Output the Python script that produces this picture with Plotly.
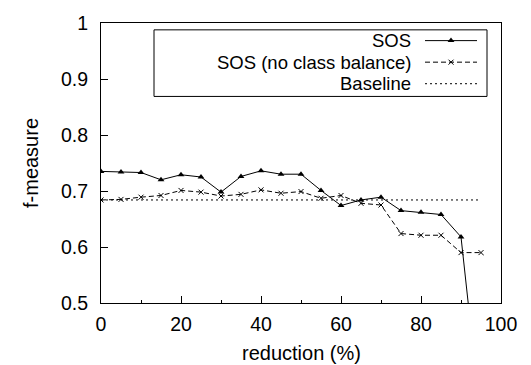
import plotly.graph_objects as go

reduction = [0, 5, 10, 15, 20, 25, 30, 35, 40, 45, 50, 55, 60, 65, 70, 75, 80, 85, 90, 95]
sos = [0.735, 0.734, 0.733, 0.720, 0.729, 0.725, 0.698, 0.726, 0.736, 0.730, 0.730,
       0.701, 0.674, 0.684, 0.689, 0.665, 0.662, 0.658, 0.618, 0.29]
sos_nocb = [0.684, 0.685, 0.689, 0.692, 0.701, 0.698, 0.691, 0.694, 0.702, 0.696, 0.699,
            0.687, 0.692, 0.678, 0.675, 0.624, 0.621, 0.621, 0.590, 0.590]
baseline_x = [0, 95]
baseline_y = [0.684, 0.684]
legend_names = ["SOS", "SOS (no class balance)", "Baseline"]
x_ticks = [0, 20, 40, 60, 80, 100]
y_ticks = [0.5, 0.6, 0.7, 0.8, 0.9, 1]
y_ticktext = ["0.5", "0.6", "0.7", "0.8", "0.9", "1"]

FONT = "Liberation Sans, Arial, sans-serif"
FS = 19.5
LFS = 18.5

W, H = 531, 365
L, R, T, B = 101, 30, 17, 62
pw, ph = W - L - R, H - T - B


def px_x(p):
    return (p - L) / pw


def px_y(p):
    return 1 - (p - T) / ph


sos_line = dict(color="black", width=1)
nocb_line = dict(color="black", width=1, dash="5px,3px")
base_line = dict(color="black", width=1, dash="2px,3px")
sos_marker = dict(symbol="triangle-up", size=6, color="black")
nocb_marker = dict(symbol="x-thin", size=5, color="black", line=dict(color="black", width=1))

fig = go.Figure()
fig.add_trace(go.Scatter(x=reduction, y=sos, mode="lines+markers", line=sos_line,
                         marker=sos_marker, cliponaxis=True, showlegend=False))
fig.add_trace(go.Scatter(x=reduction, y=sos_nocb, mode="lines+markers", line=nocb_line,
                         marker=nocb_marker, showlegend=False))
fig.add_trace(go.Scatter(x=baseline_x, y=baseline_y, mode="lines", line=base_line,
                         showlegend=False))

# custom legend samples on a hidden overlay axis (rows 3,2,1 from top)
rows = [3, 2, 1]
for yy, ln, mk in zip(rows, [sos_line, nocb_line, base_line], [sos_marker, nocb_marker, None]):
    fig.add_trace(go.Scatter(x=[0, 1], y=[yy, yy], mode="lines", line=ln,
                             xaxis="x2", yaxis="y2", showlegend=False, hoverinfo="skip"))
    if mk is not None:
        fig.add_trace(go.Scatter(x=[0.5], y=[yy], mode="markers", marker=mk,
                                 xaxis="x2", yaxis="y2", showlegend=False, hoverinfo="skip"))

row_px = [35, 57, 79]
# rows at y px 35, 57, 79 -> axis range 0.5..3.5 spans 24..90
fig.update_layout(
    xaxis2=dict(domain=[px_x(425), px_x(477)], range=[0, 1], visible=False, anchor="y2"),
    yaxis2=dict(domain=[px_y(90), px_y(24)], range=[0.5, 3.5], visible=False, anchor="x2"),
)

for name, yy in zip(legend_names, row_px):
    fig.add_annotation(text=name, x=px_x(413), y=px_y(yy), xref="paper", yref="paper",
                       xanchor="right", yanchor="middle", showarrow=False,
                       font=dict(family=FONT, size=LFS, color="black"))

# legend box
fig.add_shape(type="rect", xref="paper", yref="paper",
              x0=px_x(154), x1=px_x(487), y0=px_y(92), y1=px_y(24),
              line=dict(color="black", width=1))

# axis titles
fig.add_annotation(text="reduction (%)", x=0.5, y=px_y(354), xref="paper", yref="paper",
                   xanchor="center", yanchor="middle", showarrow=False,
                   font=dict(family=FONT, size=20, color="black"))
fig.add_annotation(text="f-measure", x=px_x(31), y=px_y(160), xref="paper", yref="paper",
                   xanchor="center", yanchor="middle", showarrow=False, textangle=-90,
                   font=dict(family=FONT, size=20, color="black"))

fig.update_layout(
    width=W, height=H,
    margin=dict(l=L, r=R, t=T, b=B),
    paper_bgcolor="white", plot_bgcolor="white",
    font=dict(family=FONT, size=FS, color="black"),
    xaxis=dict(range=[0, 100], tickvals=x_ticks, ticks="inside", ticklen=7,
               tickcolor="black", showline=True, linecolor="black", linewidth=1, mirror=True,
               showgrid=False, zeroline=False, ticklabelstandoff=4,
               minor=dict(tickvals=[10, 30, 50, 70, 90], ticks="inside", ticklen=3,
                          tickcolor="black"),
               tickfont=dict(size=FS)),
    yaxis=dict(range=[0.5, 1], tickvals=y_ticks, ticktext=y_ticktext,
               ticks="inside", ticklen=7, tickcolor="black", showline=True, linecolor="black",
               linewidth=1, mirror=True, showgrid=False, zeroline=False,
               ticklabelstandoff=8, tickfont=dict(size=FS)),
)

fig.write_html("out.html")
